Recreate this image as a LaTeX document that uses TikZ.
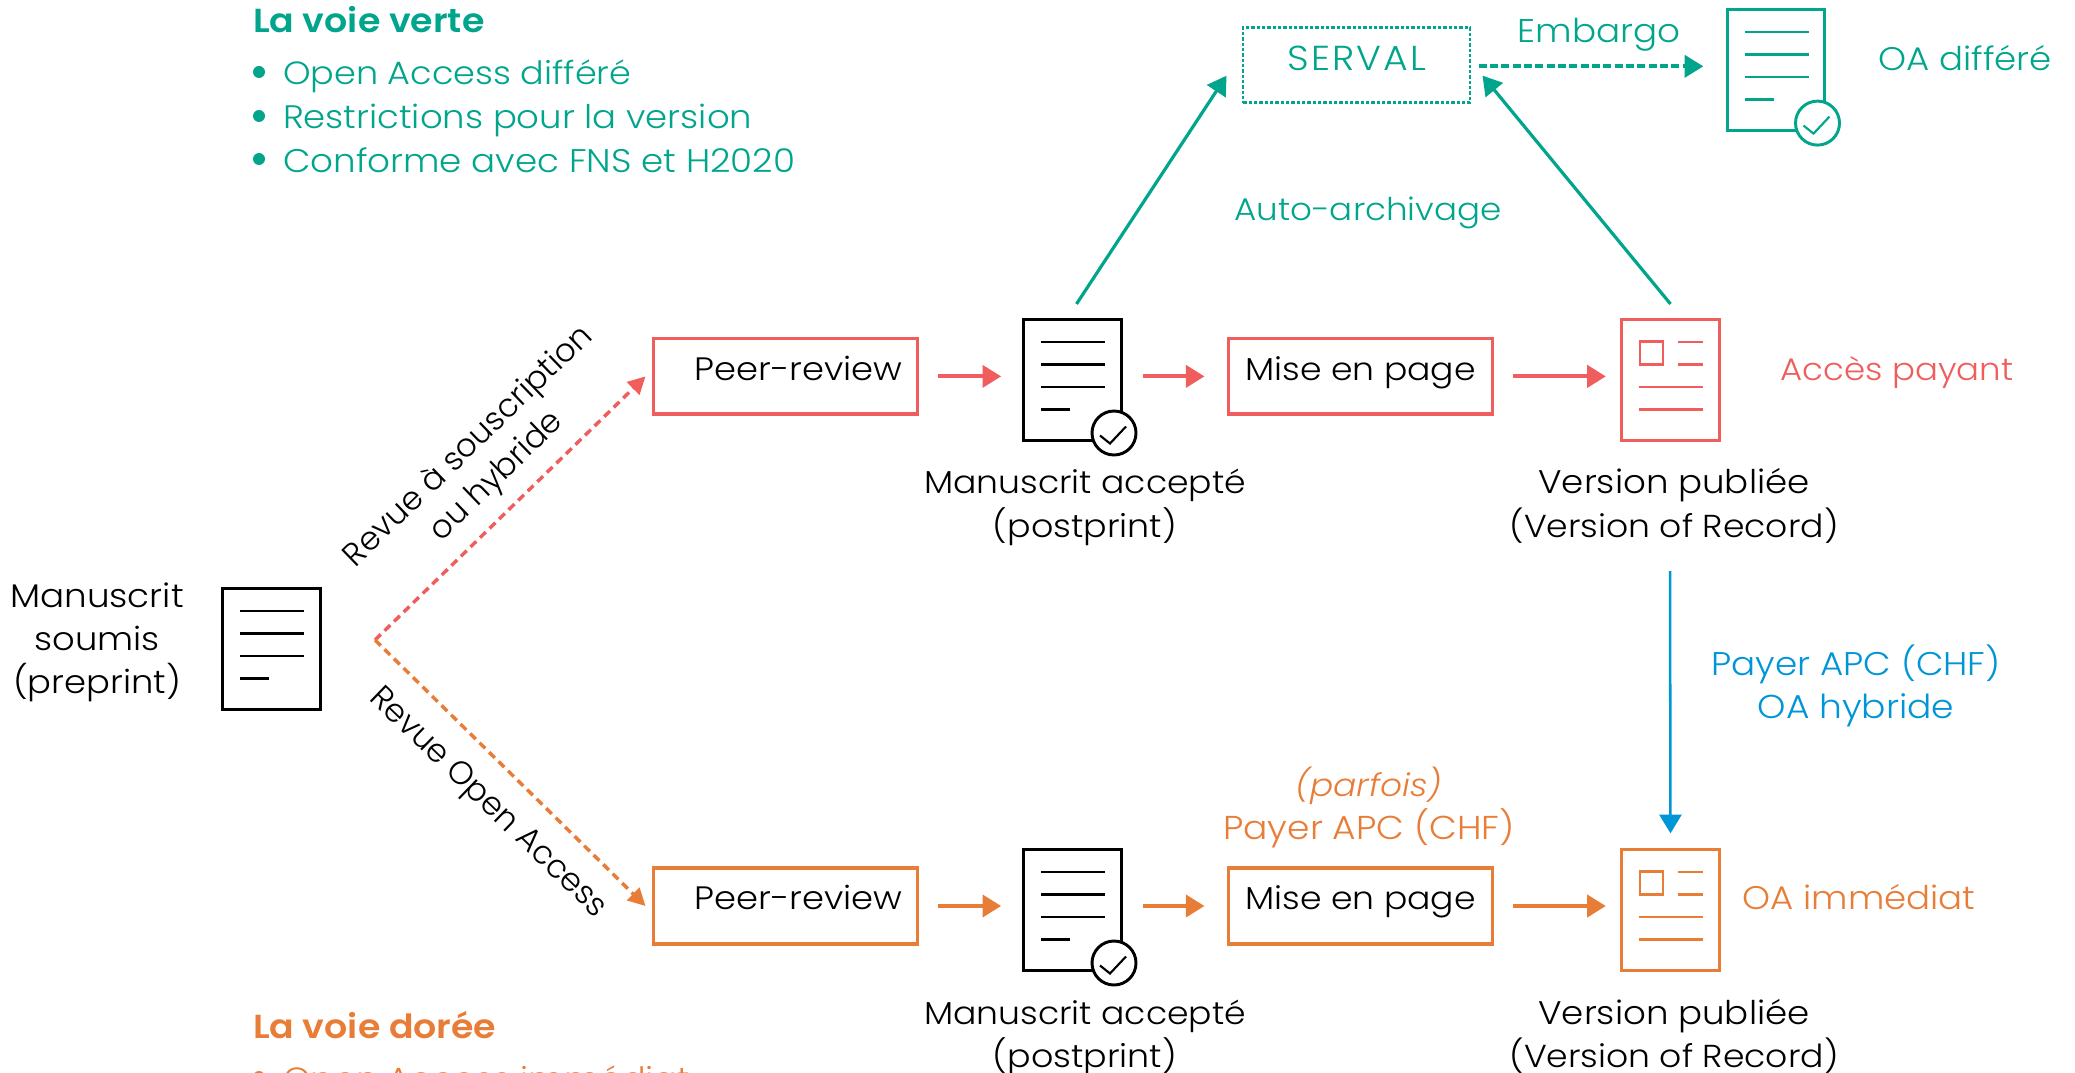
\documentclass[tikz,border=0pt]{standalone}
\usepackage{fontspec}
\setmainfont{Poppins}[UprightFont=* Light,BoldFont=* SemiBold,ItalicFont=* Light Italic,FakeStretch=1.09]
\newfontfamily\rotfont{Poppins}[UprightFont=* Light]
\usetikzlibrary{arrows.meta}
\definecolor{cgreen}{RGB}{0,165,140}
\definecolor{cred}{RGB}{239,93,92}
\definecolor{corange}{RGB}{232,125,55}
\definecolor{cblue}{RGB}{0,149,214}
\tikzset{
  txt/.style={inner sep=0pt,outer sep=0pt,yshift=-0.75pt,font=\fontsize{24.3}{24}\selectfont,anchor=base},
  txtw/.style={txt,anchor=base west},
  fs/.style={font=\fontsize{#1}{24}\selectfont},
  rtxt/.style={txt,font=\rotfont\fontsize{24.2}{24}\selectfont},
  bx/.style={draw,line width=2.6pt,minimum width=198pt,minimum height=57pt,inner sep=0pt,outer sep=0pt},
  docbox/.style={draw,line width=2.2pt,minimum width=73pt,minimum height=91pt,inner sep=0pt,outer sep=0pt},
  ln/.style={line width=2.1pt},
  arr/.style={line width=3pt,-{Triangle[length=14pt,width=16.5pt]}},
  garr/.style={line width=2.4pt,-{Triangle[length=14pt,width=16.5pt]}},
  darr/.style={line width=2.6pt,dash pattern=on 6pt off 4pt,-{Triangle[length=13pt,width=13pt]}},
  bul/.style={circle,fill,inner sep=0pt,minimum size=9pt,outer sep=0pt},
}
% name, left x, top y, colour
\newcommand{\mydoc}[4]{%
  \node[docbox,draw=#4] (#1) at ({#2+49.5},{#3+61.5}) {};
  \draw[ln,#4] ({#2+18},{#3+23.5}) -- ({#2+82},{#3+23.5});
  \draw[ln,#4] ({#2+18},{#3+46}) -- ({#2+82},{#3+46});
  \draw[ln,#4] ({#2+18},{#3+68.5}) -- ({#2+82},{#3+68.5});
  \draw[ln,#4] ({#2+18},{#3+91}) -- ({#2+47},{#3+91});
}
\newcommand{\mycheck}[4]{%
  \node[circle,draw=#4,fill=white,line width=2.2pt,minimum size=33pt,inner sep=0pt] (#1c) at ({#2+91},{#3+114.5}) {};
  \draw[line width=1.6pt,#4] ({#2+77},{#3+117}) -- ({#2+87},{#3+125}) -- ({#2+103},{#3+108});
}
\newcommand{\mypub}[4]{%
  \node[docbox,draw=#4] (#1) at ({#2+49.5},{#3+61.5}) {};
  \draw[ln,#4] ({#2+19},{#3+23}) rectangle ({#2+42},{#3+46});
  \draw[ln,#4] ({#2+57},{#3+23.5}) -- ({#2+82},{#3+23.5});
  \draw[ln,#4] ({#2+57},{#3+46}) -- ({#2+82},{#3+46});
  \draw[ln,#4] ({#2+18},{#3+68.5}) -- ({#2+82},{#3+68.5});
  \draw[ln,#4] ({#2+18},{#3+91}) -- ({#2+82},{#3+91});
}
\begin{document}
\begin{tikzpicture}[x=0.75pt,y=-0.75pt]
\useasboundingbox (0,0) rectangle (2075,1073);
\clip (0,0) rectangle (2075,1073);
% lists
\node[txtw,cgreen,font=\fontsize{25}{24}\selectfont\bfseries] (vt) at (253,31.5) {La voie verte};
\node[bul,cgreen] (b1) at (259,72) {};
\node[bul,cgreen] (b2) at (259,116) {};
\node[bul,cgreen] (b3) at (259,159) {};
\node[txtw,cgreen,fs=24.1] (l1) at (283,84) {Open Access différé};
\node[txtw,cgreen,fs=24.4] (l2) at (283,127.5) {Restrictions pour la version};
\node[txtw,cgreen,fs=24.55] (l3) at (283,171.5) {Conforme avec FNS et H2020};
\node[txtw,corange,font=\fontsize{25}{24}\selectfont\bfseries] (vd) at (253,1037) {La voie dorée};
\node[bul,corange] (b4) at (259,1077) {};
\node[txtw,corange,fs=24.1] (l4) at (283,1089) {Open Access immédiat};
% submitted
\node[txt,fs=24.6] (ms1) at (97,606) {Manuscrit};
\node[txt] (ms2) at (97,649) {soumis};
\node[txt] (ms3) at (97,692) {(preprint)};
\mydoc{d0}{222}{587.5}{black}
\coordinate (fork) at (375,640);
% top row
\node[bx,draw=cred,minimum height=56.5pt] (p1) at (785.5,376.4) {};
\node[txt] (p1t) at (798.5,379) {Peer-review};
\mydoc{d1}{1023}{318.5}{black}
\mycheck{d1}{1023}{318.5}{black}
\node[bx,draw=cred,minimum height=56.5pt] (m1) at (1360.5,376.4) {};
\node[txt,fs=23.8] (m1t) at (1360.5,379) {Mise en page};
\mypub{v1}{1621}{318.5}{cred}
\node[txt,cred,fs=23.4] (ap) at (1897,379) {Accès payant};
\node[txt,fs=23.8] (a1) at (1085,492) {Manuscrit accepté};
\node[txt,fs=24] (a2) at (1085,536) {(postprint)};
\node[txt,fs=24.5] (r1) at (1674,492) {Version publiée};
\node[txt,fs=23.8] (r2) at (1674,536) {(Version of Record)};
% bottom row
\node[bx,draw=corange] (p2) at (785.5,906) {};
\node[txt] (p2t) at (798.5,908) {Peer-review};
\mydoc{d2}{1023}{848.5}{black}
\mycheck{d2}{1023}{848.5}{black}
\node[bx,draw=corange] (m2) at (1360.5,906) {};
\node[txt,fs=23.8] (m2t) at (1360.5,908) {Mise en page};
\mypub{v2}{1621}{848.5}{corange}
\node[txt,corange,fs=24.5] (oi) at (1859,908) {OA immédiat};
\node[txt,fs=23.8] (a3) at (1085,1023) {Manuscrit accepté};
\node[txt,fs=24] (a4) at (1085,1066) {(postprint)};
\node[txt,fs=24.5] (r3) at (1674,1023) {Version publiée};
\node[txt,fs=23.8] (r4) at (1674,1066) {(Version of Record)};
\node[txt,corange,fs=23.7] (pf) at (1369,795) {\itshape (parfois)};
\node[txt,corange,fs=24.8] (po) at (1369,838) {Payer APC (CHF)};
% green
\node[draw=cgreen,line width=1.9pt,dash pattern=on 2.5pt off 1.5pt,minimum width=170pt,minimum height=56.5pt,inner sep=0pt,outer sep=0pt] (sv) at (1356.5,65) {};
\node[txt,cgreen,font=\fontsize{26}{24}\selectfont\addfontfeature{LetterSpace=6}] (svt) at (1357,69.5) {SERVAL};
\node[txt,cgreen,fs=24.6] (em) at (1599,42) {Embargo};
\mydoc{d3}{1726.5}{8.6}{cgreen}
\mycheck{d3}{1726.5}{8.6}{cgreen}
\node[txt,cgreen,fs=24.5] (od) at (1965,69.5) {OA différé};
\node[txt,cgreen,fs=23.5] (au) at (1368,220) {Auto-archivage};
% blue
\node[txt,cblue,fs=24.6] (b5) at (1856,674) {Payer APC (CHF)};
\node[txt,cblue,fs=24.8] (b6) at (1856,717) {OA hybride};
% connectors
\draw[darr,cred] (fork) -- ([xshift=-6pt]p1.west);
\draw[darr,corange] (fork) -- ([xshift=-6pt]p2.west);
\draw[arr,cred] ([xshift=15pt]p1.east) -- ([xshift=-17pt]p1.east -| d1.west);
\draw[arr,cred] ([xshift=-64pt]m1.west) -- ([xshift=-18pt]m1.west);
\draw[arr,cred] ([xshift=15pt]m1.east) -- ([xshift=-12pt]m1.east -| v1.west);
\draw[arr,corange] ([xshift=15pt]p2.east) -- ([xshift=-17pt]p2.east -| d2.west);
\draw[arr,corange] ([xshift=-64pt]m2.west) -- ([xshift=-18pt]m2.west);
\draw[arr,corange] ([xshift=15pt]m2.east) -- ([xshift=-12pt]m2.east -| v2.west);
\draw[garr,cgreen] ([xshift=3pt,yshift=11.5pt]d1.north) -- ([xshift=-12.5pt,yshift=-8pt]sv.west);
\draw[garr,cgreen] ([yshift=11.5pt]v1.north) -- ([xshift=9.5pt,yshift=-8pt]sv.east);
\draw[arr,cgreen,line width=2.8pt,dash pattern=on 6pt off 2.5pt,shorten <=6.5pt] ([yshift=-1pt]sv.east) -- ([xshift=-18pt,yshift=-1pt]sv.east -| d3.west);
\coordinate (bs) at (1670,571);
\draw[line width=1.9pt,cblue,-{Triangle[length=14pt,width=16.5pt]}] (bs) -- ([yshift=12pt]v2.north);
% rotated
\node[rtxt,rotate=44] (t1) at (475,452) {Revue à souscription};
\node[rtxt,rotate=44] (t2) at (503,482) {ou hybride};
\node[rtxt,rotate=-44] (t3) at (482,808) {Revue Open Access};
\end{tikzpicture}
\end{document}
